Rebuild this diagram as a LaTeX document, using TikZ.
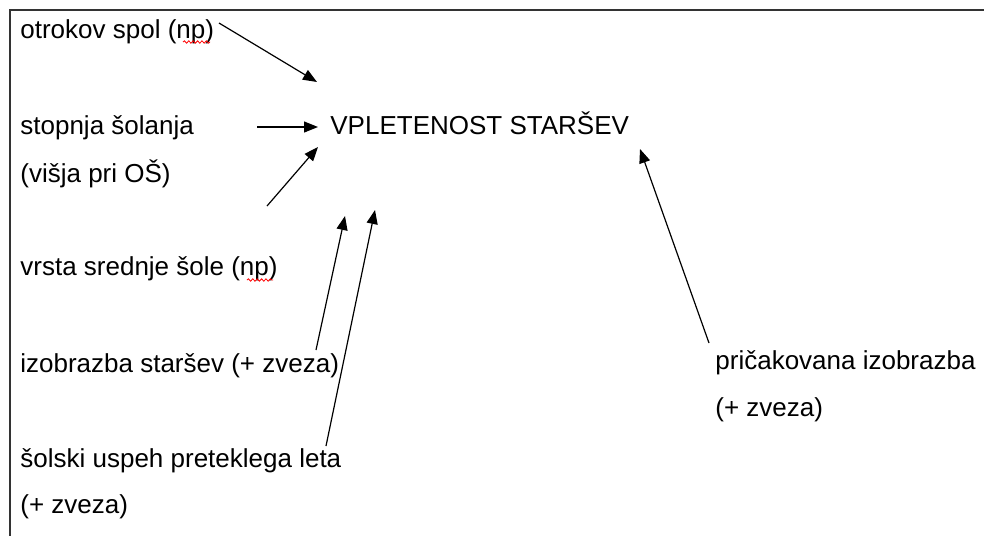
\documentclass[tikz,border=0pt]{standalone}
\usepackage{fontspec}
\setmainfont{Liberation Sans}
\usetikzlibrary{arrows.meta}
\usetikzlibrary{decorations.pathmorphing}

\tikzset{
  lbl/.style={anchor=base west,inner sep=0pt,font=\fontsize{13pt}{15pt}\selectfont},
  link/.style={-{Triangle[length=7pt,width=5.5pt]},line width=0.6pt},
  spell/.style={red,line width=0.4pt,decorate,decoration={snake,segment length=2.2pt,amplitude=0.6pt}}
}

\begin{document}
\begin{tikzpicture}[x=0.5pt,y=-0.5pt]
  \useasboundingbox (0,0) rectangle (984,536);
  %frame
  \draw[line width=1pt,black!80] (984,10) -- (10,10) -- (10,536);
  %centre
  \node[lbl] (vpl) at (330,134) {VPLETENOST STARŠEV};
  %left column
  \node[lbl] (spol) at (20,38) {otrokov spol (np)};
  \node[lbl] (stop) at (20,134) {stopnja šolanja};
  \node[lbl] (stop2) at (20,182) {(višja pri OŠ)};
  \node[lbl] (vrsta) at (20,275) {vrsta srednje šole (np)};
  \node[lbl] (izob) at (20,372) {izobrazba staršev (+ zveza)};
  \node[lbl] (uspeh) at (20,467) {šolski uspeh preteklega leta};
  \node[lbl] (uspeh2) at (20,513) {(+ zveza)};
  %right
  \node[lbl] (prick) at (715,369) {pričakovana izobrazba};
  \node[lbl] (prick2) at (715,416) {(+ zveza)};
  %spelling marks
  \draw[spell] (183,42) -- (210,42);
  \draw[spell] (247,280) -- (273,280);
  %arrow ends
  \coordinate (a1s) at (219,23);
  \coordinate (a1e) at (317,82);
  \coordinate (a2s) at (257,127);
  \coordinate (a2e) at (318,127);
  \coordinate (a3s) at (267,206);
  \coordinate (a3e) at (318,147);
  \coordinate (a4s) at (316,350);
  \coordinate (a4e) at (345,216);
  \coordinate (a5s) at (326,446);
  \coordinate (a5e) at (375,210);
  \coordinate (a6s) at (709,343);
  \coordinate (a6e) at (640,149);
  %arrows
  \draw[link] (a1s) -- (a1e);
  \draw[link] (a2s) -- (a2e);
  \draw[link] (a3s) -- (a3e);
  \draw[link] (a4s) -- (a4e);
  \draw[link] (a5s) -- (a5e);
  \draw[link] (a6s) -- (a6e);
\end{tikzpicture}
\end{document}
